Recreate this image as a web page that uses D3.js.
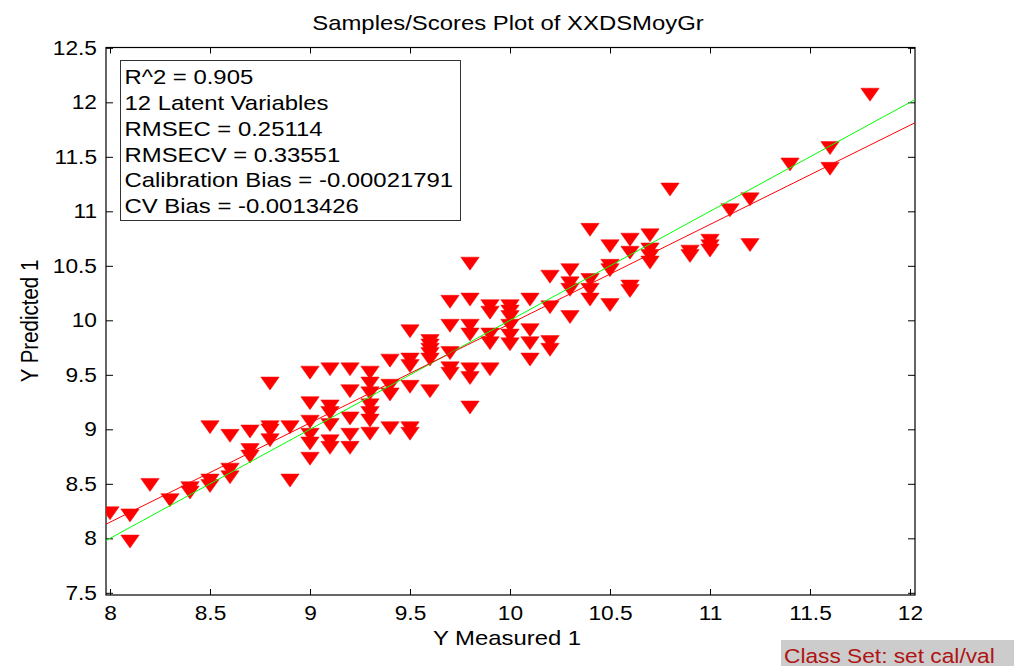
<!DOCTYPE html>
<html>
<head>
<meta charset="utf-8">
<script src="https://cdn.jsdelivr.net/npm/d3@7"></script>
<style>
  html, body { margin: 0; padding: 0; background: #fff; }
  svg { display: block; }
  text { font-family: "Liberation Sans", Arial, sans-serif; }
</style>
</head>
<body>
<svg id="chart" width="1014" height="666"></svg>
<script>
// ---------- data ----------
const measured = [
  8.0,
  8.1, 8.1,
  8.2,
  8.3,
  8.4, 8.4,
  8.5, 8.5, 8.5,
  8.6, 8.6, 8.6,
  8.7, 8.7, 8.7,
  8.8, 8.8, 8.8, 8.8,
  8.9, 8.9,
  9.0, 9.0, 9.0, 9.0, 9.0, 9.0,
  9.1, 9.1, 9.1, 9.1, 9.1, 9.1,
  9.2, 9.2, 9.2, 9.2, 9.2,
  9.3, 9.3, 9.3, 9.3, 9.3, 9.3, 9.3,
  9.4, 9.4, 9.4, 9.4,
  9.5, 9.5, 9.5, 9.5, 9.5, 9.5,
  9.6, 9.6, 9.6, 9.6, 9.6, 9.6,
  9.7, 9.7, 9.7, 9.7, 9.7,
  9.8, 9.8, 9.8, 9.8, 9.8, 9.8, 9.8,
  9.9, 9.9, 9.9, 9.9, 9.9,
  10.0, 10.0, 10.0, 10.0, 10.0, 10.0,
  10.1, 10.1, 10.1, 10.1,
  10.2, 10.2, 10.2, 10.2,
  10.3, 10.3, 10.3, 10.3,
  10.4, 10.4, 10.4, 10.4,
  10.5, 10.5, 10.5, 10.5,
  10.6, 10.6, 10.6, 10.6,
  10.7, 10.7, 10.7, 10.7,
  10.8,
  10.9, 10.9,
  11.0, 11.0, 11.0,
  11.1,
  11.2, 11.2,
  11.4,
  11.6, 11.6,
  11.8
];
const predicted = [
  8.23,
  8.21, 7.97,
  8.49,
  8.35,
  8.46, 8.42,
  9.02, 8.53, 8.48,
  8.94, 8.63, 8.56,
  8.98, 8.81, 8.75,
  9.42, 9.02, 8.99, 8.90,
  9.02, 8.53,
  9.52, 9.24, 9.07, 8.95, 8.87, 8.73,
  9.55, 9.21, 9.15, 9.04, 8.89, 8.83,
  9.55, 9.35, 9.10, 8.95, 8.83,
  9.52, 9.42, 9.33, 9.22, 9.15, 9.08, 8.96,
  9.63, 9.40, 9.32, 9.01,
  9.90, 9.64, 9.58, 9.39, 9.01, 8.96,
  9.81, 9.77, 9.73, 9.69, 9.64, 9.35,
  10.17, 9.95, 9.70, 9.56, 9.51,
  10.52, 10.19, 9.95, 9.87, 9.55, 9.47, 9.20,
  10.13, 10.07, 9.87, 9.79, 9.55,
  10.13, 10.08, 10.03, 9.95, 9.86, 9.78,
  10.19, 9.91, 9.79, 9.64,
  10.40, 10.12, 9.80, 9.73,
  10.46, 10.34, 10.28, 10.03,
  10.83, 10.37, 10.28, 10.19,
  10.68, 10.50, 10.46, 10.14,
  10.74, 10.62, 10.31, 10.27,
  10.78, 10.65, 10.59, 10.53,
  11.20,
  10.63, 10.59,
  10.73, 10.68, 10.64,
  11.01,
  11.11, 10.69,
  11.43,
  11.58, 11.39,
  12.07
];
const xTicks = [8, 8.5, 9, 9.5, 10, 10.5, 11, 11.5, 12];
const yTicks = [7.5, 8, 8.5, 9, 9.5, 10, 10.5, 11, 11.5, 12, 12.5];
const xDomain = [7.98, 12.025];
const yDomain = [7.48, 12.503];
const fitSlope = 0.9105;
const fitIntercept = 0.864;
const statsLines = [
  "R^2 = 0.905",
  "12 Latent Variables",
  "RMSEC = 0.25114",
  "RMSECV = 0.33551",
  "Calibration Bias = -0.00021791",
  "CV Bias = -0.0013426"
];
const titleText = "Samples/Scores Plot of XXDSMoyGr";
const xLabelText = "Y Measured 1";
const yLabelText = "Y Predicted 1";
const classText = "Class Set: set cal/val";

// ---------- layout ----------
const L = 106, R = 915, T = 47.5, B = 595;
const SX = 1.165; // horizontal stretch of the reference rendering
const svg = d3.select("#chart");

const x = d3.scaleLinear().domain(xDomain).range([L, R]);
const y = d3.scaleLinear().domain(yDomain).range([B, T]);

function stretchedText(g, px, py, str, size, anchor, color, rot) {
  return g.append("text")
    .attr("transform", `translate(${px},${py}) scale(${SX},1)` + (rot ? ` rotate(${rot})` : ""))
    .attr("text-anchor", anchor)
    .attr("font-size", size)
    .attr("fill", color || "#000")
    .text(str);
}

// clip
svg.append("defs").append("clipPath").attr("id", "plotclip")
  .append("rect").attr("x", L).attr("y", T).attr("width", R - L).attr("height", B - T);

// axes (ticks inward)
const gx = svg.append("g").attr("transform", `translate(0,${B})`)
  .call(d3.axisBottom(x).tickValues(xTicks).tickSize(-6).tickSizeOuter(0).tickPadding(11.5).tickFormat(d => String(d)));
const gxt = svg.append("g").attr("transform", `translate(0,${T})`)
  .call(d3.axisTop(x).tickValues(xTicks).tickSize(-6).tickSizeOuter(0).tickFormat(""));
const gy = svg.append("g").attr("transform", `translate(${L},0)`)
  .call(d3.axisLeft(y).tickValues(yTicks).tickSize(-7).tickSizeOuter(0).tickPadding(9).tickFormat(d => String(d)));
const gyr = svg.append("g").attr("transform", `translate(${R},0)`)
  .call(d3.axisRight(y).tickValues(yTicks).tickSize(-7).tickSizeOuter(0).tickFormat(""));

[gx, gxt, gy, gyr].forEach(g => {
  g.select(".domain").remove();
  g.selectAll(".tick line").attr("stroke", "#000").attr("stroke-width", 1);
});
gx.selectAll(".tick text")
  .attr("font-size", 19.5).attr("fill", "#000")
  .attr("font-family", "Liberation Sans, Arial, sans-serif")
  .attr("transform", `scale(${SX},1)`);
gy.selectAll(".tick text")
  .attr("font-size", 19.5).attr("fill", "#000")
  .attr("font-family", "Liberation Sans, Arial, sans-serif")
  .attr("x", -9 / SX)
  .attr("transform", `scale(${SX},1)`);

// plot box
svg.append("rect").attr("x", L).attr("y", T).attr("width", R - L).attr("height", B - T)
  .attr("fill", "none").attr("stroke", "#000").attr("stroke-width", 1.2);

// markers
const plot = svg.append("g").attr("clip-path", "url(#plotclip)");
const hw = 9.2, hh = 6.5;
plot.selectAll("path.pt").data(measured.map((m, i) => [m, predicted[i]]))
  .join("path").attr("class", "pt")
  .attr("d", d => {
    const cx = x(d[0]), cy = y(d[1]);
    return `M${cx - hw},${cy - hh}L${cx + hw},${cy - hh}L${cx},${cy + hh}Z`;
  })
  .attr("fill", "#ff0000").attr("stroke", "#ff0000").attr("stroke-width", 0.5);

// 1:1 line and fit line
const line = d3.line().x(d => x(d[0])).y(d => y(d[1]));
plot.append("path").datum(xDomain.map(v => [v, v]))
  .attr("d", line).attr("fill", "none").attr("stroke", "#00ff00").attr("stroke-width", 1);
plot.append("path").datum(xDomain.map(v => [v, fitSlope * v + fitIntercept]))
  .attr("d", line).attr("fill", "none").attr("stroke", "#ff0000").attr("stroke-width", 1);

// stats box
svg.append("rect").attr("x", 120.5).attr("y", 60.5).attr("width", 340).attr("height", 160)
  .attr("fill", "#fff").attr("stroke", "#333").attr("stroke-width", 1);
const baselines = [84, 110, 136, 161.7, 187.3, 213];
statsLines.forEach((s, i) => stretchedText(svg, 124.5, baselines[i], s, 20.5, "start"));

// title and labels
stretchedText(svg, 508, 29.5, titleText, 20.5, "middle");
stretchedText(svg, 507, 645, xLabelText, 20.5, "middle");
stretchedText(svg, 38, 321, yLabelText, 20.5, "middle", "#000", -90);

// class set badge
svg.append("rect").attr("x", 781).attr("y", 640).attr("width", 233).attr("height", 26).attr("fill", "#cccccc");
stretchedText(svg, 784, 662.5, classText, 19.5, "start", "#b01414");
</script>
</body>
</html>
